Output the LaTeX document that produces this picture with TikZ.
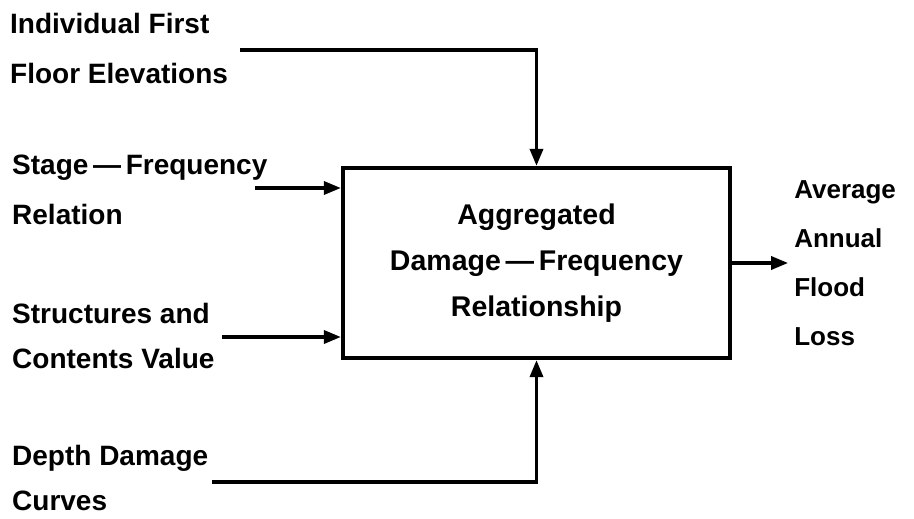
\documentclass[tikz,border=0pt]{standalone}
\usepackage{fontspec}
\setmainfont{Liberation Sans}
\usetikzlibrary{arrows.meta, positioning}

\begin{document}
\begin{tikzpicture}[
        x=1pt, y=-1pt,
        lbl/.style={
            anchor=west,
            align=left,
            inner sep=0pt,
            font=\fontsize{28}{50}\selectfont\bfseries
        },
        tight/.style={
            font=\fontsize{28}{45}\selectfont\bfseries
        },
        mbox/.style={
            rectangle,
            draw=black,
            line width=4.2pt,
            minimum width=387pt,
            minimum height=190pt,
            align=center,
            font=\fontsize{28.5}{46}\selectfont\bfseries
        },
        arrow/.style={
            line width=3.4pt,
            -{Triangle[length=17pt, width=13pt]}
        }
        ]

        \useasboundingbox (0,0) rectangle (914,519);

        \node (agg) [mbox] at (536.5,263) {Aggregated\\Damage\,—\,Frequency\\Relationship};

        \node (elev) [lbl] at (10,48) {Individual First\\Floor Elevations};
        \node (stage) [lbl] at (12,190) {Stage\,—\,Frequency\\Relation};
        \node (value) [lbl, tight] at (12,336) {Structures and\\Contents Value};
        \node (depth) [lbl, tight] at (12,478) {Depth Damage\\Curves};
        \node (loss) [lbl, right=62pt of agg, font=\fontsize{26}{49}\selectfont\bfseries] {Average\\Annual\\Flood\\Loss};

        \coordinate (e0) at (240,50);
        \coordinate (s0) at (255,188);
        \coordinate (v0) at (222,337);
        \coordinate (d0) at (212,482);

        \draw [arrow] (e0) -| (agg.north);
        \draw [arrow] (s0) -- (s0 -| agg.west);
        \draw [arrow] (v0) -- (v0 -| agg.west);
        \draw [arrow] (d0) -| (agg.south);
        \draw [arrow, shorten >=6pt] (agg) -- (loss);

    \end{tikzpicture}
\end{document}
